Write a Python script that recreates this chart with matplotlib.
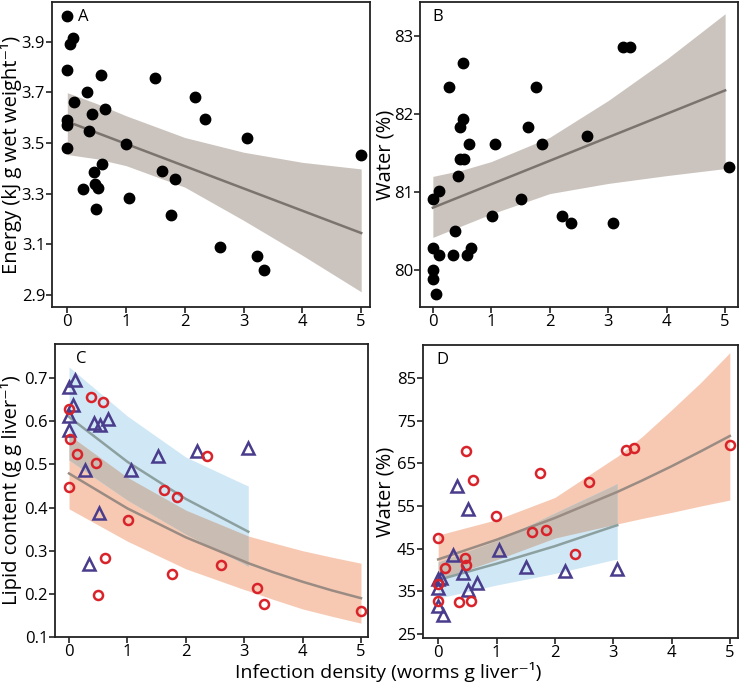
import numpy as np
import matplotlib
matplotlib.use('Agg')
import matplotlib.pyplot as plt

plt.rcParams['font.family'] = ['Open Sans', 'DejaVu Sans']

# ---- panel A: energy density vs infection density
a_x = [0, 0.05, 0.10, 0, 0.57, 1.50, 0.33, 2.17, 0.11, 0.64, 0.42, 0, 0, 2.35, 0.37, 3.06,
       1.00, 0, 4.99, 0.59, 0.45, 1.61, 1.83, 0.48, 0.53, 0.26, 1.05, 0.49, 1.76, 2.60, 3.22, 3.34]
a_y = [4.00, 3.89, 3.916, 3.789, 3.768, 3.757, 3.70, 3.681, 3.663, 3.633, 3.616, 3.591, 3.571, 3.596,
       3.549, 3.519, 3.496, 3.482, 3.453, 3.416, 3.384, 3.390, 3.360, 3.338, 3.323, 3.317, 3.283,
       3.238, 3.217, 3.091, 3.055, 2.998]
a_line_x = [0, 5]
a_line_y = [3.585, 3.145]
a_band_x = [0, 0.5, 1, 2, 3, 4, 5]
a_band_hi = [3.699, 3.656, 3.608, 3.522, 3.464, 3.424, 3.398]
a_band_lo = [3.455, 3.438, 3.411, 3.326, 3.195, 3.057, 2.913]

# ---- panel B: body water
b_x = [0, 0.11, 0.27, 0.51, 0.51, 0.47, 0.46, 0.54, 0.61, 0.43, 0.38, 0, 0.10, 0.34, 0.58, 0.66,
       0, 0, 0.06, 1.07, 1.01, 1.51, 1.63, 1.77, 1.86, 2.21, 2.37, 2.63, 3.09, 3.26, 3.37, 5.06]
b_y = [80.91, 81.01, 82.34, 82.65, 81.93, 81.83, 81.42, 81.42, 81.62, 81.21, 80.50, 80.29, 80.19,
       80.19, 80.19, 80.29, 80.00, 79.89, 79.69, 81.62, 80.70, 80.91, 81.83, 82.34, 81.62, 80.70,
       80.60, 81.72, 80.60, 82.85, 82.85, 81.32]
b_line_x = [0, 5]
b_line_y = [80.80, 82.30]
b_band_x = [0, 0.5, 1, 2, 3, 4, 5]
b_band_hi = [81.20, 81.28, 81.39, 81.70, 82.17, 82.70, 83.28]
b_band_lo = [80.42, 80.57, 80.72, 80.98, 81.11, 81.21, 81.30]

# ---- panel C: liver lipid content (triangles / circles)
c_tri_x = [0.0, 0.11, 0.06, 0, 0, 0.42, 0.53, 0.66, 0.28, 0.51, 0.34, 1.06, 1.52, 2.19, 3.07]
c_tri_y = [0.679, 0.695, 0.637, 0.613, 0.580, 0.597, 0.591, 0.605, 0.487, 0.388, 0.270, 0.486,
           0.520, 0.531, 0.539]
c_circ_x = [0, 0.02, 0, 0.13, 0.38, 0.58, 0.47, 0.61, 0.50, 1.01, 1.62, 1.85, 1.76, 2.36, 2.61,
            3.22, 3.34, 5.0]
c_circ_y = [0.629, 0.559, 0.448, 0.525, 0.656, 0.645, 0.503, 0.282, 0.198, 0.370, 0.440, 0.424,
            0.245, 0.520, 0.267, 0.213, 0.176, 0.161]
c_tri_fit_x = [0, 1, 2, 3, 3.07]
c_tri_fit = [0.610, 0.506, 0.420, 0.349, 0.344]
c_tri_hi = [0.726, 0.612, 0.517, 0.454, 0.450]
c_tri_lo = [0.510, 0.417, 0.338, 0.269, 0.263]
c_circ_fit_x = [0, 1, 2, 3, 3.07, 3.5, 4, 4.5, 5]
c_circ_fit = [0.479, 0.398, 0.331, 0.275, 0.271, 0.250, 0.228, 0.208, 0.190]
c_circ_hi = [0.568, 0.470, 0.394, 0.338, 0.334, 0.318, 0.300, 0.285, 0.271]
c_circ_lo = [0.397, 0.322, 0.258, 0.210, 0.207, 0.187, 0.165, 0.148, 0.132]

# ---- panel D: liver water
d_tri_x = [0.32, 0.51, 0.26, 1.05, 1.50, 2.18, 3.06, 0.43, 0.66, 0.51, 0, 0.04, 0, 0, 0.09]
d_tri_y = [59.7, 54.4, 43.5, 44.7, 40.8, 39.9, 40.2, 39.4, 36.9, 35.3, 38.0, 38.2, 35.9, 31.6, 29.6]
d_circ_x = [0, 0.11, 0, 0, 0.35, 0.56, 0.46, 0.47, 0.48, 0.60, 0.99, 1.61, 1.84, 1.75, 2.35,
            2.59, 3.22, 3.35, 5.01]
d_circ_y = [47.4, 40.5, 36.7, 32.7, 32.5, 32.8, 42.8, 41.3, 67.9, 61.1, 52.7, 48.9, 49.4, 62.7,
            43.8, 60.7, 68.0, 68.7, 69.4]
d_tri_fit_x = [0, 1, 2, 3, 3.07]
d_tri_fit = [37.7, 41.5, 45.6, 50.2, 50.5]
d_tri_hi = [41.9, 46.9, 53.4, 59.8, 60.3]
d_tri_lo = [33.4, 36.5, 39.2, 42.4, 42.5]
d_circ_fit_x = [0, 1, 2, 3, 3.07, 3.5, 4, 4.5, 5]
d_circ_fit = [42.5, 47.1, 52.2, 57.9, 58.3, 61.0, 64.3, 67.8, 71.4]
d_circ_hi = [48.2, 51.8, 57.0, 66.0, 66.6, 71.3, 77.5, 83.9, 90.9]
d_circ_lo = [37.8, 42.4, 47.5, 50.6, 50.8, 52.1, 53.5, 55.0, 56.4]

x_ticks = [0, 1, 2, 3, 4, 5]

GREY_BAND = '#cbc4be'
GREY_LINE = '#7b736e'
ORANGE_BAND = '#f7c9b3'
BLUE_BAND = '#d0e8f5'
MIX_BAND = '#c9bcb2'
RED = '#d9232a'
PURPLE = '#4a3c8c'

fig = plt.figure(figsize=(7.4, 6.89), dpi=100)
W, H = 740, 689


def add_axes(left, top, right, bottom):
    return fig.add_axes([left / W, 1 - bottom / H, (right - left) / W, (bottom - top) / H])


def style(ax, xlim, ylim, yticks, yfmt, letter, lx, ylab, ylab_x):
    ax.set_xlim(*xlim)
    ax.set_ylim(*ylim)
    ax.set_xticks(x_ticks)
    ax.set_yticks(yticks)
    ax.set_yticklabels([yfmt.format(v) for v in yticks])
    ax.tick_params(direction='out', length=4, width=1.2, labelsize=12, pad=1, color='#222222')
    for s in ax.spines.values():
        s.set_linewidth(1.3)
        s.set_color('#222222')
    ax.text(lx, 0.95, letter, transform=ax.transAxes, fontsize=12, ha='center', va='center')
    ax.set_ylabel(ylab, fontsize=14.5, va='center')
    ax.yaxis.set_label_coords(ylab_x, 0.5)


# A
ax = add_axes(52, 2, 370, 307)
ax.fill_between(a_band_x, a_band_lo, a_band_hi, color=GREY_BAND, lw=0, zorder=1)
ax.plot(a_line_x, a_line_y, color=GREY_LINE, lw=1.8, zorder=2)
ax.plot(a_x, a_y, 'o', color='black', ms=7.5, zorder=3)
style(ax, (-0.26, 5.15), (2.853, 4.057), [2.9, 3.1, 3.3, 3.5, 3.7, 3.9], '{:.1f}', 'A', 0.097,
      'Energy (kJ g wet weight\u207b\u00b9)', -0.128)

# B
ax = add_axes(420, 2, 738, 307)
ax.fill_between(b_band_x, b_band_lo, b_band_hi, color=GREY_BAND, lw=0, zorder=1)
ax.plot(b_line_x, b_line_y, color=GREY_LINE, lw=1.8, zorder=2)
ax.plot(b_x, b_y, 'o', color='black', ms=7.5, zorder=3)
style(ax, (-0.22, 5.22), (79.53, 83.43), [80, 81, 82, 83], '{:.0f}', 'B', 0.057,
      'Water (%)', -0.11)


def two_group(ax, tx, ty, cx, cy, tfx, tfit, thi, tlo, cfx, cfit, chi, clo):
    ax.fill_between(cfx, clo, chi, color=ORANGE_BAND, lw=0, zorder=1)
    ax.fill_between(tfx, tlo, thi, color=BLUE_BAND, lw=0, zorder=1)
    # overlap of the two bands
    ohi = np.minimum(thi, np.interp(tfx, cfx, chi))
    olo = np.maximum(tlo, np.interp(tfx, cfx, clo))
    ax.fill_between(tfx, olo, ohi, where=ohi > olo, interpolate=True, color=MIX_BAND, lw=0, zorder=1)
    ax.plot(tfx, tfit, color='#8da0a0', lw=1.8, zorder=2)
    ax.plot(cfx, cfit, color='#9a8b83', lw=1.8, zorder=2)
    ax.plot(tx, ty, '^', mfc='none', mec=PURPLE, mew=1.8, ms=8.5, zorder=3)
    ax.plot(cx, cy, 'o', mfc='none', mec=RED, mew=1.8, ms=6.5, zorder=3)


# C
ax = add_axes(55, 344, 368, 637)
two_group(ax, c_tri_x, c_tri_y, c_circ_x, c_circ_y,
          c_tri_fit_x, c_tri_fit, c_tri_hi, c_tri_lo,
          c_circ_fit_x, c_circ_fit, c_circ_hi, c_circ_lo)
style(ax, (-0.24, 5.12), (0.1, 0.779), [0.1, 0.2, 0.3, 0.4, 0.5, 0.6, 0.7], '{:.1f}', 'C', 0.085,
      'Lipid content (g g liver\u207b\u00b9)', -0.14)

# D
ax = add_axes(423, 345, 738, 638)
two_group(ax, d_tri_x, d_tri_y, d_circ_x, d_circ_y,
          d_tri_fit_x, d_tri_fit, d_tri_hi, d_tri_lo,
          d_circ_fit_x, d_circ_fit, d_circ_hi, d_circ_lo)
style(ax, (-0.26, 5.14), (24.1, 92.7), [25, 35, 45, 55, 65, 75, 85], '{:.0f}', 'D', 0.063,
      'Water (%)', -0.12)

fig.text(388 / W, 1 - 672 / H, 'Infection density (worms g liver\u207b\u00b9)', fontsize=14,
         ha='center', va='center')

fig.savefig('out.png', dpi=100)
